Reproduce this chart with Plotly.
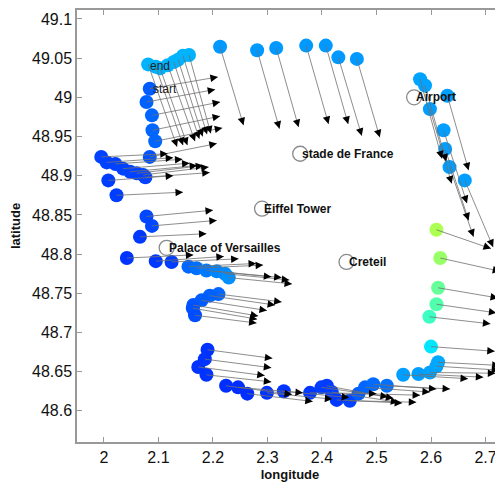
import plotly.graph_objects as go

# ---------------- data ----------------
lon = [2.084, 2.078, 2.088, 2.089, 2.094, 2.084,
       1.995, 2.005, 2.021, 2.035, 2.048, 2.060, 2.072, 2.076, 2.008, 2.023, 2.078, 2.088, 2.066,
       2.042, 2.095, 2.124, 2.155, 2.170, 2.188, 2.207, 2.222, 2.229,
       2.210, 2.194, 2.179, 2.164, 2.163, 2.167,
       2.190, 2.185, 2.173, 2.188,
       2.224, 2.246, 2.263, 2.299, 2.330, 2.378, 2.399, 2.409, 2.418, 2.427, 2.451, 2.467, 2.479, 2.494, 2.519,
       2.549, 2.577, 2.598, 2.610, 2.613,
       2.600, 2.597, 2.610, 2.613, 2.617, 2.610,
       2.662, 2.634, 2.626, 2.623, 2.630, 2.598, 2.589, 2.580,
       2.464, 2.430, 2.407, 2.371, 2.316, 2.281, 2.213,
       2.156, 2.145, 2.136, 2.128, 2.117, 2.103, 2.095, 2.081]
lat = [49.011, 48.994, 48.977, 48.958, 48.944, 48.924,
       48.924, 48.917, 48.915, 48.909, 48.905, 48.903, 48.901, 48.898, 48.894, 48.875, 48.848, 48.836, 48.822,
       48.795, 48.791, 48.790, 48.784, 48.782, 48.779, 48.778, 48.775, 48.770,
       48.749, 48.747, 48.741, 48.735, 48.731, 48.722,
       48.678, 48.666, 48.656, 48.646,
       48.632, 48.630, 48.622, 48.623, 48.625, 48.623, 48.630, 48.632, 48.624, 48.614, 48.613, 48.622, 48.630, 48.634, 48.632,
       48.646, 48.647, 48.649, 48.657, 48.662,
       48.682, 48.720, 48.736, 48.757, 48.795, 48.831,
       48.894, 48.911, 48.934, 48.958, 49.002, 48.985, 49.015, 49.023,
       49.049, 49.051, 49.066, 49.066, 49.063, 49.060, 49.0645,
       49.054, 49.053, 49.048, 49.045, 49.041, 49.037, 49.039, 49.042]
u = [0.125, 0.126, 0.125, 0.124, 0.123, 0.123,
     0.122, 0.122, 0.123, 0.122, 0.123, 0.122, 0.120, 0.118, 0.119, 0.122, 0.122, 0.119, 0.122,
     0.122, 0.125, 0.123, 0.124, 0.122, 0.119, 0.119, 0.118, 0.116,
     0.116, 0.120, 0.120, 0.119, 0.118, 0.113,
     0.119, 0.122, 0.122, 0.119,
     0.121, 0.119, 0.120, 0.120, 0.120, 0.122, 0.122, 0.122, 0.122, 0.120, 0.122, 0.113, 0.119, 0.116, 0.116,
     0.119, 0.119, 0.120, 0.115, 0.113,
     0.117, 0.112, 0.110, 0.110, 0.110, 0.100,
     0.052, 0.044, 0.043, 0.043, 0.039, 0.040, 0.039, 0.040,
     0.042, 0.043, 0.041, 0.041, 0.041, 0.041, 0.043,
     0.040, 0.044, 0.045, 0.047, 0.050, 0.050, 0.050, 0.053]
v = [0.015, 0.016, 0.017, 0.018, 0.017, 0.017,
     0.004, 0.006, 0.006, 0.007, 0.008, 0.010, 0.010, 0.006, 0.006, 0.004, 0.008, 0.007, 0.004,
     0.004, 0.006, 0.004, 0.004, 0.004, -0.008, -0.008, -0.008, -0.008,
     -0.010, -0.012, -0.013, -0.014, -0.014, -0.010,
     -0.011, -0.011, -0.011, -0.009,
     -0.011, -0.007, -0.010, -0.008, -0.008, -0.001, -0.012, -0.016, -0.013, -0.004, -0.002, -0.002, -0.006, -0.006, -0.004,
     -0.005, -0.004, -0.001, -0.005, -0.004,
     -0.006, -0.009, -0.011, -0.013, -0.017, -0.024,
     -0.085, -0.089, -0.091, -0.093, -0.095, -0.095, -0.097, -0.101,
     -0.100, -0.100, -0.100, -0.100, -0.101, -0.100, -0.100,
     -0.100, -0.100, -0.098, -0.098, -0.097, -0.098, -0.100, -0.105]
level = [0.20, 0.205, 0.21, 0.21, 0.21, 0.19,
         0.175, 0.175, 0.175, 0.175, 0.175, 0.175, 0.175, 0.175, 0.17, 0.17, 0.18, 0.18, 0.165,
         0.16, 0.165, 0.17, 0.21, 0.22, 0.23, 0.24, 0.245, 0.25,
         0.21, 0.205, 0.20, 0.195, 0.19, 0.185,
         0.16, 0.16, 0.16, 0.16,
         0.155, 0.155, 0.155, 0.16, 0.16, 0.165, 0.17, 0.17, 0.17, 0.165, 0.175, 0.20, 0.21, 0.215, 0.22,
         0.265, 0.265, 0.27, 0.27, 0.275,
         0.335, 0.42, 0.44, 0.46, 0.51, 0.53,
         0.265, 0.265, 0.265, 0.265, 0.265, 0.265, 0.27, 0.27,
         0.26, 0.26, 0.26, 0.26, 0.26, 0.26, 0.26,
         0.285, 0.285, 0.285, 0.285, 0.285, 0.285, 0.285, 0.285]

place_names = ["Airport", "stade de France", "Eiffel Tower", "Palace of Versailles", "Creteil"]
place_lon = [2.569, 2.360, 2.290, 2.115, 2.445]
place_lat = [49.000, 48.928, 48.858, 48.808, 48.790]

trip_names = ["end", "start"]
trip_lon = [2.081, 2.086]
trip_lat = [49.040, 49.0104]

x_ticks = [2.0, 2.1, 2.2, 2.3, 2.4, 2.5, 2.6, 2.7]
x_tick_text = ["2", "2.1", "2.2", "2.3", "2.4", "2.5", "2.6", "2.7"]
y_ticks = [48.6, 48.65, 48.7, 48.75, 48.8, 48.85, 48.9, 48.95, 49.0, 49.05, 49.1]
y_tick_text = ["48.6", "48.65", "48.7", "48.75", "48.8", "48.85", "48.9", "48.95", "49", "49.05", "49.1"]

# ---------------- figure ----------------
jet = [[0.0, "rgb(0,0,143)"], [0.11, "rgb(0,0,255)"], [0.36, "rgb(0,255,255)"],
       [0.61, "rgb(255,255,0)"], [0.86, "rgb(255,0,0)"], [1.0, "rgb(128,0,0)"]]

FONT = "Arial, Liberation Sans, sans-serif"
fig = go.Figure()

fig.add_trace(go.Scatter(
    x=lon, y=lat, mode="markers",
    marker=dict(size=14, color=level, colorscale=jet, cmin=0, cmax=1, line=dict(width=0)),
    hoverinfo="skip", showlegend=False))

fig.add_trace(go.Scatter(
    x=place_lon, y=place_lat, mode="markers",
    marker=dict(size=15, symbol="circle-open", color="#8a8a8a", line=dict(width=1.3)),
    hoverinfo="skip", showlegend=False))

lx, ly = [], []
for a, b, du, dv in zip(lon, lat, u, v):
    lx += [a, a + du, None]
    ly += [b, b + dv, None]
fig.add_trace(go.Scatter(x=lx, y=ly, mode="lines", line=dict(color="#707070", width=0.8),
                         hoverinfo="skip", showlegend=False))

annotations = []
for a, b, du, dv in zip(lon, lat, u, v):
    annotations.append(dict(
        x=a + du, y=b + dv, ax=a + 0.9 * du, ay=b + 0.9 * dv,
        xref="x", yref="y", axref="x", ayref="y", text="", showarrow=True,
        arrowhead=2, arrowsize=1.5, arrowwidth=1, arrowcolor="black", standoff=0))

for name, a, b in zip(place_names, place_lon, place_lat):
    annotations.append(dict(x=a, y=b, xref="x", yref="y", text="<b>" + name + "</b>",
                            showarrow=False, xanchor="left", yanchor="middle",
                            font=dict(family=FONT, size=12, color="#111")))
for name, a, b in zip(trip_names, trip_lon, trip_lat):
    annotations.append(dict(x=a, y=b, xref="x", yref="y", text=name,
                            showarrow=False, xanchor="left", yanchor="middle",
                            font=dict(family=FONT, size=12, color="#222")))

axis_common = dict(showgrid=False, zeroline=False, showline=True, linecolor="#999999",
                   linewidth=1.5, ticks="inside", ticklen=5, tickwidth=1.2, tickcolor="#999999",
                   tickfont=dict(family=FONT, size=16, color="#111"))

# the page places the figure 8px from the top-left corner, margins compensate
fig.update_layout(
    width=495, height=476,
    margin=dict(l=69, r=0, t=0, b=42),
    paper_bgcolor="white", plot_bgcolor="white",
    annotations=annotations,
    xaxis=dict(range=[1.9505, 2.7321], tickvals=x_ticks, ticktext=x_tick_text, mirror="ticks",
               title=dict(text="<b>longitude</b>", font=dict(family=FONT, size=13, color="#111"), standoff=5),
               **axis_common),
    yaxis=dict(range=[48.5603, 49.1114], tickvals=y_ticks, ticktext=y_tick_text, mirror=False,
               title=dict(text="<b>latitude</b>", font=dict(family=FONT, size=13, color="#111"), standoff=8),
               **axis_common),
)

fig.write_html("out.html")
